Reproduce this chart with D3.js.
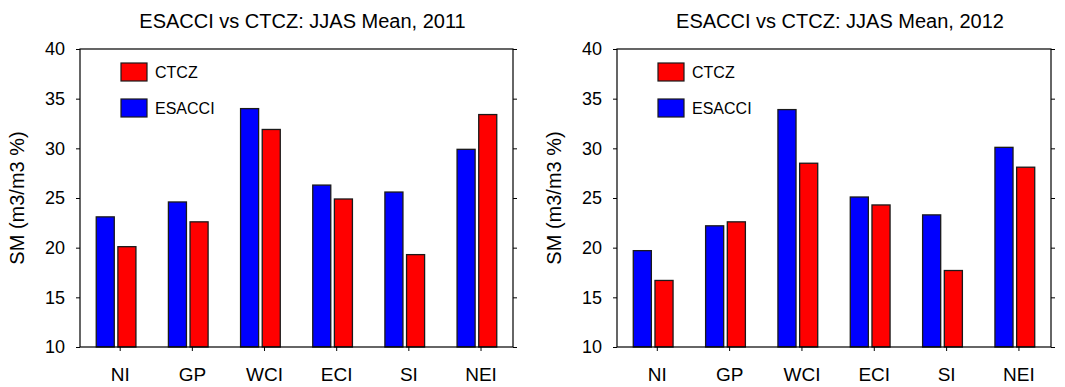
<!DOCTYPE html>
<html>
<head>
<meta charset="utf-8">
<script src="https://cdn.jsdelivr.net/npm/d3@7"></script>
<style>
  html, body { margin: 0; padding: 0; background: #fff; }
  svg { display: block; }
  text { font-family: "Liberation Sans", Arial, Helvetica, sans-serif; fill: #000; }
</style>
</head>
<body>
<svg id="chart" width="1065" height="387"></svg>
<script>
// Regions and JJAS mean soil moisture (m3/m3 %)
const categories = ["NI", "GP", "WCI", "ECI", "SI", "NEI"];
const esacci2011 = [23.1, 24.6, 34.0, 26.3, 25.6, 29.9];
const ctcz2011   = [20.1, 22.6, 31.9, 24.9, 19.3, 33.4];
const esacci2012 = [19.7, 22.2, 33.9, 25.1, 23.3, 30.1];
const ctcz2012   = [16.7, 22.6, 28.5, 24.3, 17.7, 28.1];
const yTicks = [10, 15, 20, 25, 30, 35, 40];
const seriesNames = ["CTCZ", "ESACCI"];
const seriesColors = { ESACCI: "#0000ff", CTCZ: "#ff0000" };

const panels = [
  { title: "ESACCI vs CTCZ: JJAS Mean, 2011", esacci: esacci2011, ctcz: ctcz2011, x0: 80,  x1: 513 },
  { title: "ESACCI vs CTCZ: JJAS Mean, 2012", esacci: esacci2012, ctcz: ctcz2012, x0: 617, x1: 1051 }
];

const svg = d3.select("#chart");
const plotTop = 49, plotBottom = 347;
const y = d3.scaleLinear().domain([10, 40]).range([plotBottom, plotTop]);

// bar placement in category units: ESACCI left of the tick, CTCZ right of it
const barW = 0.25;
const offsets = { ESACCI: -0.325, CTCZ: -0.025 };

panels.forEach(p => {
  const g = svg.append("g");
  const x = d3.scaleLinear().domain([0.45, 6.45]).range([p.x0, p.x1]);
  const rows = categories.map((c, i) => ({ cat: c, i: i + 1, ESACCI: p.esacci[i], CTCZ: p.ctcz[i] }));

  // bars
  ["ESACCI", "CTCZ"].forEach(s => {
    g.selectAll(null).data(rows).enter().append("rect")
      .attr("x", d => x(d.i + offsets[s]))
      .attr("width", d => x(d.i + offsets[s] + barW) - x(d.i + offsets[s]))
      .attr("y", d => y(d[s]))
      .attr("height", d => y(10) - y(d[s]))
      .attr("fill", seriesColors[s])
      .attr("stroke", "#1a1a1a")
      .attr("stroke-width", 1.3);
  });

  // frame
  g.append("rect")
    .attr("x", p.x0).attr("y", plotTop)
    .attr("width", p.x1 - p.x0).attr("height", plotBottom - plotTop)
    .attr("fill", "none").attr("stroke", "#000").attr("stroke-width", 1.2);

  // left axis
  const ya = g.append("g").attr("transform", `translate(${p.x0},0)`)
    .call(d3.axisLeft(y).tickValues(yTicks).tickSize(4).tickPadding(11).tickFormat(d3.format("d")));
  ya.select(".domain").remove();
  ya.selectAll("text").style("font-size", "18px").attr("font-family", null);
  ya.selectAll("line").attr("stroke", "#000");

  // right-side ticks
  const yr = g.append("g").attr("transform", `translate(${p.x1},0)`)
    .call(d3.axisRight(y).tickValues(yTicks).tickSize(4).tickFormat(""));
  yr.select(".domain").remove();

  // bottom axis
  const xa = g.append("g").attr("transform", `translate(0,${plotBottom})`)
    .call(d3.axisBottom(x).tickValues(d3.range(1, 7)).tickSize(4).tickPadding(17)
      .tickFormat(d => categories[d - 1]));
  xa.select(".domain").remove();
  xa.selectAll("text").style("font-size", "19px").attr("font-family", null);

  // title
  g.append("text")
    .attr("x", (p.x0 + p.x1) / 2 + 6).attr("y", 28)
    .attr("text-anchor", "middle")
    .style("font-size", "20px")
    .text(p.title);

  // y-axis label
  g.append("text")
    .attr("transform", `translate(${p.x0 - 56},${(plotTop + plotBottom) / 2}) rotate(-90)`)
    .attr("text-anchor", "middle")
    .style("font-size", "20px")
    .text("SM (m3/m3 %)");

  // legend
  const lg = g.append("g").attr("transform", `translate(${p.x0 + 41},63)`);
  seriesNames.forEach((s, k) => {
    const row = lg.append("g").attr("transform", `translate(0,${k * 36})`);
    row.append("rect").attr("width", 26).attr("height", 18)
      .attr("fill", seriesColors[s]).attr("stroke", "#1a1a1a").attr("stroke-width", 1.2);
    row.append("text").attr("x", 34).attr("y", 15)
      .style("font-size", "16px").text(s);
  });
});
</script>
</body>
</html>
